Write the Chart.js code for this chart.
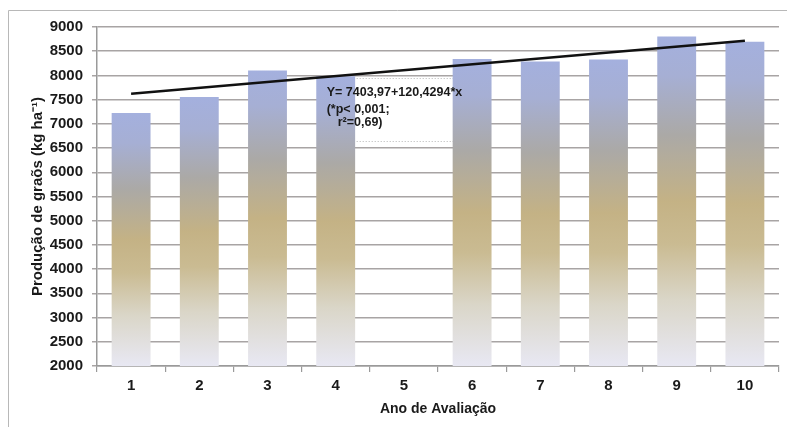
<!DOCTYPE html>
<html>
<head>
<meta charset="utf-8">
<script src="https://cdn.jsdelivr.net/npm/chart.js@4/dist/chart.umd.min.js"></script>
<style>
  html, body { margin: 0; padding: 0; background: #ffffff; }
  #wrap { width: 787px; height: 427px; position: relative; }
</style>
</head>
<body>
<div id="wrap"><canvas id="c" width="787" height="427"></canvas></div>
<script>
// ---- data ----
const categories = ['1', '2', '3', '4', '5', '6', '7', '8', '9', '10'];
const production = [7225, 7555, 8100, 7985, null, 8340, 8290, 8330, 8805, 8695];
const trend = [7620, null, null, null, null, null, null, null, null, 8715];
const yMin = 2000, yMax = 9000, yStep = 500;
const yTitle = 'Produção de graõs (kg ha⁻¹)';
const xTitle = 'Ano de Avaliação';
const equationLines = ['Y= 7403,97+120,4294*x', '(*p< 0,001;', 'r²=0,69)'];
const boxTopValue = 7950, boxBottomValue = 6655;
const lineValues = [7640, 7292, 7025];

const FONT = '"Liberation Sans", Arial, sans-serif';

function barGradient(ctx) {
  const chart = ctx.chart;
  const y = chart.scales.y;
  const v = ctx.raw;
  if (!y || v == null || !chart.chartArea) return '#a6b2de';
  const top = y.getPixelForValue(v);
  const bot = y.getPixelForValue(yMin);
  const g = chart.ctx.createLinearGradient(0, top, 0, bot);
  g.addColorStop(0.00, '#a4b0de');
  g.addColorStop(0.12, '#a6afd4');
  g.addColorStop(0.30, '#aba9a6');
  g.addColorStop(0.50, '#c4b285');
  g.addColorStop(0.63, '#cabb92');
  g.addColorStop(0.80, '#dad6c8');
  g.addColorStop(1.00, '#e8e8f3');
  return g;
}

const framePlugin = {
  id: 'frame',
  beforeDraw(chart) {
    const c = chart.ctx;
    c.save();
    c.fillStyle = '#ffffff';
    c.fillRect(0, 0, chart.width, chart.height);
    c.strokeStyle = '#b8b8b8';
    c.lineWidth = 1;
    c.beginPath();
    c.moveTo(8.5, chart.height);
    c.lineTo(8.5, 10.5);
    c.lineTo(chart.width, 10.5);
    c.stroke();
    c.restore();
  }
};

const notePlugin = {
  id: 'note',
  beforeDatasetsDraw(chart) {
    const c = chart.ctx, x = chart.scales.x, y = chart.scales.y;
    const x0 = x.getPixelForValue(3);
    const x1 = x.getPixelForValue(5);
    const yt = Math.round(y.getPixelForValue(boxTopValue)) + 0.5;
    const yb = Math.round(y.getPixelForValue(boxBottomValue)) + 0.5;
    c.save();
    c.fillStyle = '#ffffff';
    c.fillRect(x0, yt, x1 - x0, yb - yt);
    c.strokeStyle = '#b5b5b5';
    c.lineWidth = 1;
    c.setLineDash([1, 2]);
    c.beginPath();
    c.moveTo(x0, yt); c.lineTo(x1, yt);
    c.moveTo(x0, yb); c.lineTo(x1, yb);
    c.stroke();
    c.restore();
  },
  afterDatasetsDraw(chart) {
    const c = chart.ctx, x = chart.scales.x, y = chart.scales.y;
    const xl = x.getPixelForValue(3) - 9;
    c.save();
    c.fillStyle = '#1a1a1a';
    c.font = 'bold 12.5px ' + FONT;
    c.textBaseline = 'middle';
    c.textAlign = 'left';
    equationLines.forEach((t, i) => {
      const indent = i === 2 ? 11 : 0;
      c.fillText(t, xl + indent, y.getPixelForValue(lineValues[i]));
    });
    c.restore();
  }
};

new Chart(document.getElementById('c'), {
  type: 'bar',
  data: {
    labels: categories,
    datasets: [
      {
        type: 'line',
        data: trend,
        spanGaps: true,
        borderColor: '#111111',
        borderWidth: 2.5,
        pointRadius: 0,
        fill: false,
        order: 0
      },
      {
        type: 'bar',
        data: production,
        backgroundColor: barGradient,
        borderWidth: 0,
        categoryPercentage: 1.0,
        barPercentage: 0.57,
        order: 1
      }
    ]
  },
  options: {
    responsive: false,
    animation: false,
    devicePixelRatio: 1,
    layout: { padding: { left: 0, top: 27, right: 8, bottom: 0 } },
    plugins: { legend: { display: false }, tooltip: { enabled: false } },
    scales: {
      x: {
        grid: { offset: true, drawOnChartArea: false, drawTicks: true, tickLength: 6, color: '#9a9a9a', lineWidth: 1.2 },
        border: { display: true, color: '#9a9a9a', width: 1.5 },
        ticks: { color: '#1a1a1a', font: { family: FONT, size: 15, weight: 'bold' }, padding: 5, maxRotation: 0 },
        title: { display: true, text: xTitle, color: '#1a1a1a', font: { family: FONT, size: 14, weight: 'bold' }, padding: { top: 0, bottom: 9 } },
        afterFit(scale) { scale.height = 61; }
      },
      y: {
        min: yMin, max: yMax,
        grid: { color: '#a8a4a4', lineWidth: 1.5, drawTicks: true, tickLength: 5 },
        border: { display: true, color: '#9a9a9a', width: 1.5 },
        ticks: {
          stepSize: yStep, color: '#1a1a1a', font: { family: FONT, size: 15, weight: 'bold' }, padding: 9,
          callback: (v) => String(v)
        },
        title: { display: true, text: yTitle, color: '#1a1a1a', font: { family: FONT, size: 15, weight: 'bold' }, padding: { top: 29, bottom: 0 } },
        afterFit(scale) { scale.width = 97; }
      }
    }
  },
  plugins: [framePlugin, notePlugin]
});
</script>
</body>
</html>
